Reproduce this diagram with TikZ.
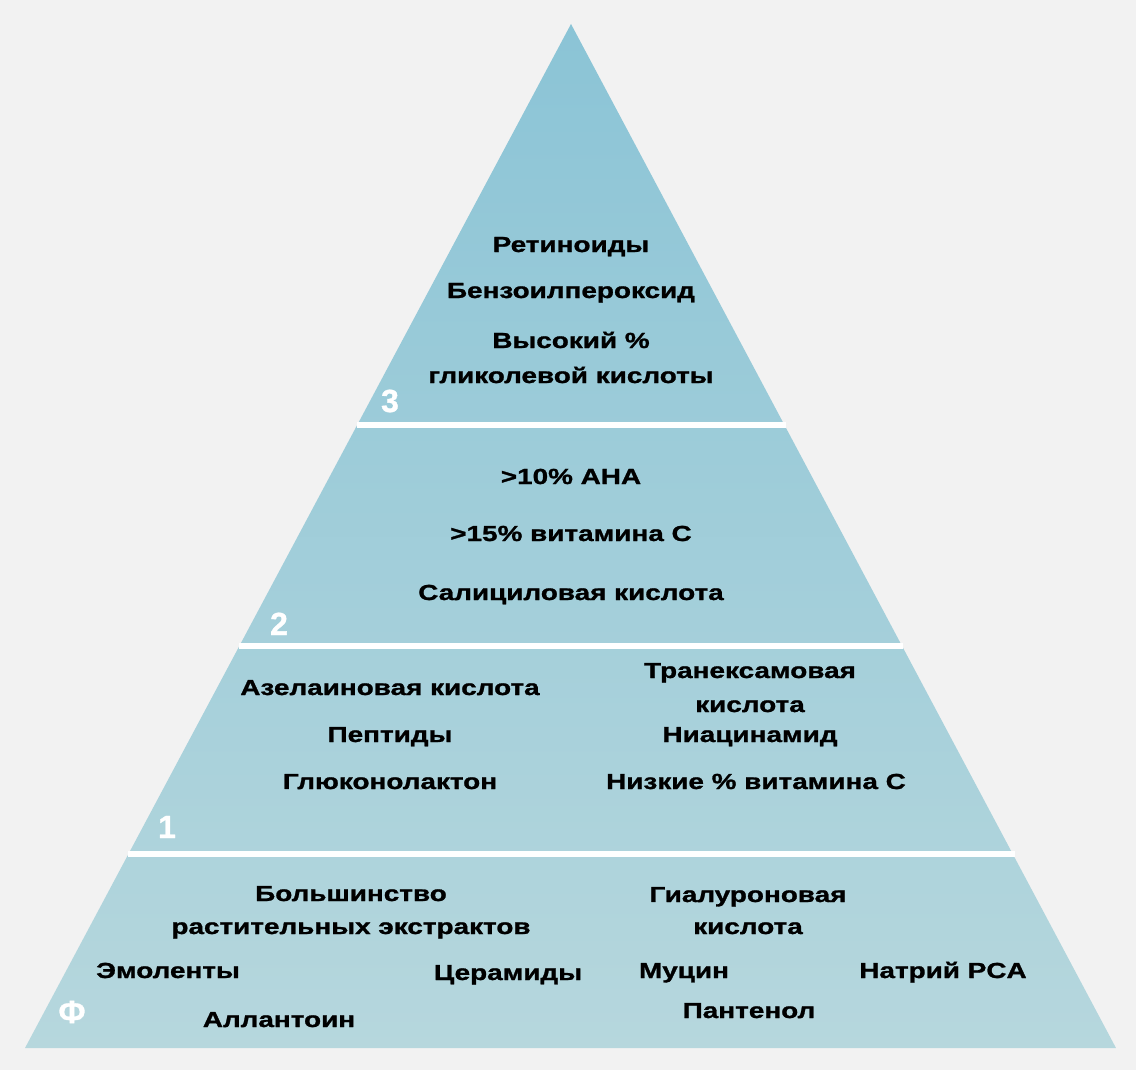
\documentclass[tikz,border=0pt]{standalone}
\usepackage{fontspec}
\newfontfamily\widebold{Liberation Sans Bold}[FakeStretch=1.28,FakeBold=1.2]
\newfontfamily\numbold{Liberation Sans Bold}[FakeBold=1.0]
\definecolor{bggray}{RGB}{242,242,242}
\definecolor{pyrtop}{RGB}{139,196,214}
\definecolor{pyrbot}{RGB}{182,215,221}
\begin{document}
\begin{tikzpicture}[x=1pt,y=-1pt,
  item/.style={anchor=base,inner sep=0pt,font=\widebold\fontsize{21.8}{25}\selectfont,text=black},
  tiernum/.style={anchor=base,inner sep=0pt,font=\numbold\fontsize{32}{36}\selectfont,text=white},
  sepline/.style={draw=white,line width=6.5pt}]
\useasboundingbox (0,0) rectangle (1136,1070);
\fill[bggray] (0,0) rectangle (1136,1070);
% pyramid
\coordinate (apex) at (571,24);
\coordinate (br) at (1116,1048);
\coordinate (bl) at (25,1048);
\shade[top color=pyrtop,bottom color=pyrbot] (apex) -- (br) -- (bl) -- cycle;
% separators
\coordinate (s1l) at (357,425);  \coordinate (s1r) at (786,425);
\coordinate (s2l) at (239,646);  \coordinate (s2r) at (903,646);
\coordinate (s3l) at (128,854);  \coordinate (s3r) at (1015,854);
\draw[sepline] (s1l) -- (s1r);
\draw[sepline] (s2l) -- (s2r);
\draw[sepline] (s3l) -- (s3r);
% tier 3
\node[item] (retin) at (571,252) {Ретиноиды};
\node[item] (benzo) at (571,298) {Бензоилпероксид};
\node[item] (glyca) at (571,348) {Высокий \%};
\node[item] (glycb) at (571,383) {гликолевой кислоты};
\node[tiernum] (n3) at (390,412) {3};
% tier 2
\node[item] (aha) at (571,484) {>10\% AHA};
\node[item] (vitc) at (571,541) {>15\% витамина C};
\node[item] (salic) at (571,600) {Салициловая кислота};
\node[tiernum] (n2) at (279,635) {2};
% tier 1
\node[item] (azel) at (390,695) {Азелаиновая кислота};
\node[item] (pept) at (390,742) {Пептиды};
\node[item] (gluc) at (390,789) {Глюконолактон};
\node[item] (trana) at (750,678) {Транексамовая};
\node[item] (tranb) at (750,712) {кислота};
\node[item] (niac) at (750,742) {Ниацинамид};
\node[item] (lowc) at (756,789) {Низкие \% витамина C};
\node[tiernum] (n1) at (167,838) {1};
% foundation
\node[item] (mosta) at (351,901) {Большинство};
\node[item] (mostb) at (351,934) {растительных экстрактов};
\node[item] (emol) at (168,978) {Эмоленты};
\node[item] (cera) at (508,980) {Церамиды};
\node[item] (allan) at (279,1027) {Аллантоин};
\node[item] (hyala) at (748,902) {Гиалуроновая};
\node[item] (hyalb) at (748,934) {кислота};
\node[item] (mucin) at (684,978) {Муцин};
\node[item] (napca) at (943,978) {Натрий PCA};
\node[item] (panth) at (749,1018) {Пантенол};
\node[tiernum] (nf) at (72,1023) {Ф};
\end{tikzpicture}
\end{document}
